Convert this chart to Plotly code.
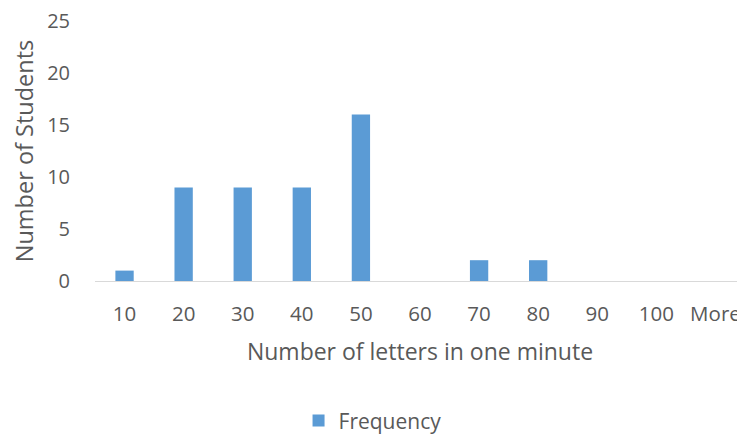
import plotly.graph_objects as go

categories = ["10", "20", "30", "40", "50", "60", "70", "80", "90", "100", "More"]
frequency = [1, 9, 9, 9, 16, 0, 2, 2, 0, 0, 0]
y_ticks = [0, 5, 10, 15, 20, 25]

grey = "#595959"
font_family = "Open Sans, Liberation Sans, sans-serif"

fig = go.Figure()
fig.add_trace(go.Bar(
    x=categories, y=frequency, name="Frequency",
    marker=dict(color="#5b9bd5", line=dict(width=0)),
))

fig.update_layout(
    width=737, height=427,
    margin=dict(l=87, r=0, t=13, b=154, autoexpand=False),
    paper_bgcolor="white", plot_bgcolor="white",
    bargap=0.69,
    font=dict(family=font_family, color=grey, size=20),
    showlegend=True,
    legend=dict(orientation="h", x=0.427, xanchor="center", y=-0.538, yanchor="middle",
                font=dict(size=21, color=grey)),
    xaxis=dict(
        type="category", showgrid=False, showline=True, linecolor="#d9d9d9", linewidth=1,
        automargin=False,
        ticks="outside", ticklen=14, tickcolor="rgba(0,0,0,0)",
        tickfont=dict(size=20.5, color=grey),
        title=dict(text="Number of letters in one minute", font=dict(size=23, color=grey), standoff=18),
    ),
    yaxis=dict(
        range=[0, 25], tickvals=y_ticks, showgrid=False, zeroline=False, showline=False,
        automargin=False, ticklabeloverflow="allow",
        ticks="outside", ticklen=20, tickcolor="rgba(0,0,0,0)",
        tickfont=dict(size=20, color=grey),
        title=dict(text="Number of Students", font=dict(size=23.5, color=grey), standoff=10),
    ),
)

fig.write_html("out.html")
